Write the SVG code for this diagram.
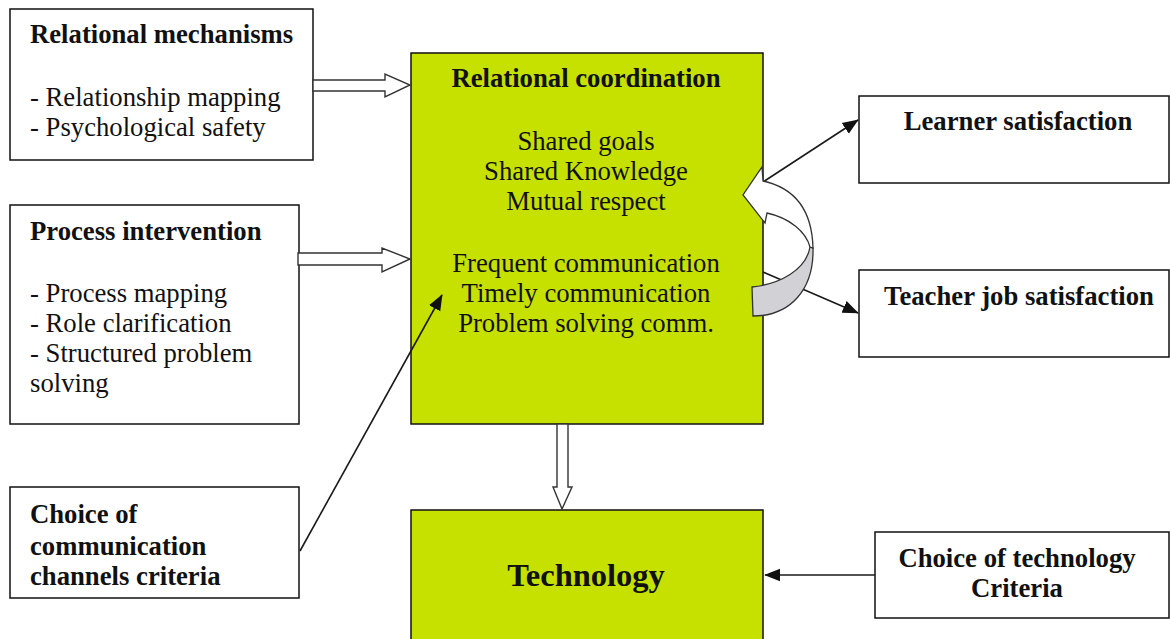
<svg xmlns="http://www.w3.org/2000/svg" width="1170" height="639" viewBox="0 0 1170 639">
  <defs>
    <style>
      .box { fill: #ffffff; stroke: #111111; stroke-width: 1.5; }
      .green { fill: #c6e000; stroke: #111111; stroke-width: 1.5; }
      .t { font-family: "Liberation Serif", "Times New Roman", serif; font-size: 26.7px; fill: #111111; }
      .b { font-weight: bold; }
      .c { text-anchor: middle; }
      .line { fill: none; stroke: #1a1a1a; stroke-width: 1.6; }
      .block { fill: #ffffff; stroke: #333333; stroke-width: 1.4; stroke-linejoin: miter; }
    </style>
    <marker id="triL" viewBox="0 0 10 10" refX="9.5" refY="5" markerWidth="16" markerHeight="16" markerUnits="userSpaceOnUse" orient="auto">
      <path d="M0,1 L10,5 L0,9 z" fill="#111111"/>
    </marker>
  </defs>

  <!-- left column -->
  <g id="relational-mechanisms">
    <rect class="box" x="10" y="9" width="303" height="151"/>
    <text class="t b" x="30" y="43">Relational mechanisms</text>
    <text class="t" x="30" y="106">- Relationship mapping</text>
    <text class="t" x="30" y="136">- Psychological safety</text>
  </g>

  <g id="process-intervention">
    <rect class="box" x="10" y="205" width="289" height="219"/>
    <text class="t b" x="30" y="240">Process intervention</text>
    <text class="t" x="30" y="302">- Process mapping</text>
    <text class="t" x="30" y="332">- Role clarification</text>
    <text class="t" x="30" y="362">- Structured problem</text>
    <text class="t" x="30" y="392">solving</text>
  </g>

  <g id="channel-criteria">
    <rect class="box" x="10" y="487" width="289" height="111"/>
    <text class="t b" x="30" y="523">Choice of</text>
    <text class="t b" x="30" y="555">communication</text>
    <text class="t b" x="30" y="585">channels criteria</text>
  </g>

  <!-- centre column -->
  <g id="relational-coordination">
    <rect class="green" x="411" y="53" width="352" height="371"/>
    <text class="t b c" x="586" y="87">Relational coordination</text>
    <text class="t c" x="586" y="150">Shared goals</text>
    <text class="t c" x="586" y="180">Shared Knowledge</text>
    <text class="t c" x="586" y="210">Mutual respect</text>
    <text class="t c" x="586" y="272">Frequent communication</text>
    <text class="t c" x="586" y="302">Timely communication</text>
    <text class="t c" x="586" y="332">Problem solving comm.</text>
  </g>

  <g id="technology">
    <rect class="green" x="411" y="510" width="352" height="140"/>
    <text class="t b c" x="586" y="586" style="font-size:32.5px">Technology</text>
  </g>

  <!-- right column -->
  <g id="learner-satisfaction">
    <rect class="box" x="859" y="96" width="310" height="87"/>
    <text class="t b c" x="1018" y="130">Learner satisfaction</text>
  </g>

  <g id="teacher-satisfaction">
    <rect class="box" x="859" y="270" width="310" height="87"/>
    <text class="t b c" x="1019" y="305">Teacher job satisfaction</text>
  </g>

  <g id="technology-criteria">
    <rect class="box" x="875" y="532" width="294" height="86"/>
    <text class="t b c" x="1017" y="567">Choice of technology</text>
    <text class="t b c" x="1017" y="597">Criteria</text>
  </g>

  <!-- connectors -->
  <g id="connectors">
    <!-- hollow block arrows -->
    <path class="block" d="M313,80 L385,80 L385,74 L410,85 L385,97 L385,91 L313,91 Z"/>
    <path class="block" d="M298,253 L382,253 L382,248 L410,259 L382,272 L382,265 L298,265 Z"/>
    <path class="block" d="M557,424 L557,487 L553,487 L562,509 L572,487 L568,487 L568,424 Z"/>

    <!-- thin arrows -->
    <line class="line" x1="300" y1="551" x2="442" y2="295" marker-end="url(#triL)"/>
    <line class="line" x1="763" y1="182" x2="858" y2="120" marker-end="url(#triL)"/>
    <line class="line" x1="763" y1="272" x2="858" y2="313" marker-end="url(#triL)"/>
    <line class="line" x1="875" y1="575" x2="765" y2="575" marker-end="url(#triL)"/>

    <!-- curved feedback arrow: grey underside -->
    <path d="M813,248 C814,290 790,316 753,316 L752,287 C780,284 806,270 810,247 Z" fill="#d2d2d6" stroke="#333333" stroke-width="1.3"/>
    <!-- curved feedback arrow: white front face with head -->
    <path d="M813,248 C812,210 795,188 763,181 L762,167 L743,195 L765,223 L767,213 C790,218 806,232 810,247 Z" fill="#ffffff" stroke="#333333" stroke-width="1.3" stroke-linejoin="miter"/>
  </g>
</svg>
